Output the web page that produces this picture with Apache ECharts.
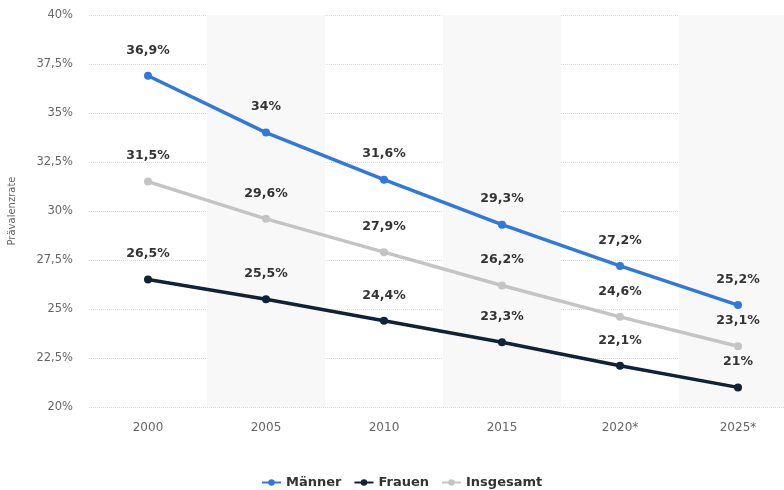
<!DOCTYPE html>
<html><head><meta charset="utf-8">
<script src="https://cdn.jsdelivr.net/npm/echarts@6/dist/echarts.min.js"></script>
<style>html,body{margin:0;padding:0;background:#fff}#c{width:784px;height:490px}</style>
</head><body><div id="c"></div>
<script>
const categories = ['2000','2005','2010','2015','2020*','2025*'];
const maenner = [36.9, 34, 31.6, 29.3, 27.2, 25.2];
const frauen = [26.5, 25.5, 24.4, 23.3, 22.1, 21];
const insgesamt = [31.5, 29.6, 27.9, 26.2, 24.6, 23.1];
const seriesNames = ['Männer','Frauen','Insgesamt'];
const colors = ['#2f78dc','#0f2238','#c4c4c4'];

const fmt = v => String(v).replace('.', ',') + '%';
const font = '"DejaVu Sans", "Liberation Sans", sans-serif';

function mk(name, data, color, z) {
  return {
    name, type: 'line', data, z,
    symbol: 'circle', symbolSize: 8,
    lineStyle: { color, width: 3.5 },
    itemStyle: { color },
    label: { show: true, position: 'top', distance: 15, formatter: p => fmt(p.value),
      color: '#333', fontWeight: 'bold', fontSize: 12.5, fontFamily: font },
    emphasis: { disabled: true }
  };
}

const chart = echarts.init(document.getElementById('c'), null, { renderer: 'canvas' });
chart.setOption({
  animation: false,
  color: colors,
  textStyle: { fontFamily: font },
  grid: { left: 89, width: 708, top: 15, bottom: 83, containLabel: false, outerBoundsMode: 'none' },
  xAxis: {
    type: 'category', data: categories, boundaryGap: true,
    axisLine: { show: false }, axisTick: { show: false },
    axisLabel: { color: '#666', fontSize: 12, margin: 15, fontFamily: font },
    splitArea: { show: true, areaStyle: { color: ['rgba(255,255,255,0)', '#f8f8f8'] } }
  },
  yAxis: {
    type: 'value', min: 20, max: 40, interval: 2.5,
    name: 'Prävalenzrate', nameLocation: 'middle', nameGap: 72, nameRotate: 90,
    nameTextStyle: { color: '#666', fontSize: 10, fontFamily: font },
    axisLine: { show: false }, axisTick: { show: false },
    axisLabel: { color: '#666', fontSize: 11.5, margin: 16, formatter: v => fmt(v), fontFamily: font },
    splitLine: { show: true, lineStyle: { color: '#dcdcdc', type: 'dotted', width: 1 } }
  },
  legend: {
    top: 471, left: 256, itemWidth: 19, itemHeight: 8, itemGap: 12,
    textStyle: { color: '#333', fontWeight: 'bold', fontSize: 13, fontFamily: font },
    data: seriesNames
  },
  series: [
    mk(seriesNames[0], maenner, colors[0], 3),
    mk(seriesNames[1], frauen, colors[1], 2),
    mk(seriesNames[2], insgesamt, colors[2], 1)
  ]
});
</script></body></html>
